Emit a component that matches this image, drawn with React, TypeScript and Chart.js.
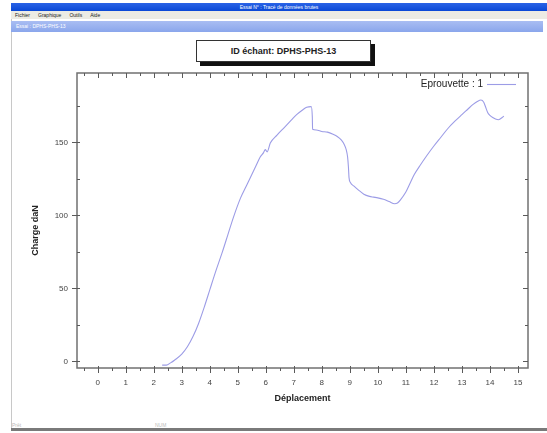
import React, { useEffect, useRef } from "react";
import { Chart, registerables } from "chart.js";

Chart.register(...registerables);

// ---- data ----
const displacement = [
  2.3, 2.45, 2.6, 2.75, 3.0, 3.2, 3.4, 3.6, 3.8, 4.0, 4.2, 4.45, 4.65, 4.85, 5.1, 5.3, 5.45, 5.65,
  5.8, 5.92, 5.98, 6.05, 6.16, 6.4, 6.65, 6.9, 7.1, 7.3, 7.46, 7.62, 7.66, 7.67, 7.8, 8.0, 8.2,
  8.4, 8.55, 8.7, 8.8, 8.87, 8.92, 8.95, 8.97, 9.02, 9.15, 9.3, 9.5, 9.7, 9.85, 10.0, 10.2, 10.4,
  10.6, 10.7, 10.8, 11.0, 11.15, 11.3, 11.5, 11.75, 12.0, 12.25, 12.5, 12.75, 13.0, 13.2, 13.4,
  13.55, 13.68, 13.78, 13.85, 13.92, 14.0, 14.1, 14.2, 14.3, 14.4, 14.5,
];
const load = [
  -2.5, -2.5, -1, 1, 5, 10, 17, 26, 37, 49, 61, 75, 87, 99, 112, 120, 126, 134,
  140, 143, 145, 143.5, 149.5, 155, 160, 165, 169, 172, 174, 174.5, 167.5, 159, 158.5, 157.5, 157,
  155.5, 154, 151.5, 148.5, 145, 140, 133, 126, 122.5, 120, 117.5, 114.5, 113, 112.5, 112, 111, 109.5,
  108, 108.5, 110.5, 116, 122, 128, 134, 141, 147.5, 153.5, 159.5, 164.5, 169, 172.5, 176,
  178, 179, 177.5, 174, 170.5, 168.5, 167, 166, 165.5, 166.5, 168,
];
const xTickValues = [0, 1, 2, 3, 4, 5, 6, 7, 8, 9, 10, 11, 12, 13, 14, 15];
const yTickValues = [0, 50, 100, 150];
const seriesLabel = "Eprouvette : 1";
const chartTitle = "ID échant: DPHS-PHS-13";
const xTitle = "Déplacement";
const yTitle = "Charge daN";
const windowTitle = "Essai N° : Tracé de données brutes";
const menuItems = ["Fichier", "Graphique", "Outils", "Aide"];
const barText = "Essai : DPHS-PHS-13";

const LINE_COLOR = "#9c9ce6";
const FONT = "'Liberation Sans', Arial, sans-serif";

const decorPlugin = {
  id: "decor",
  afterDraw(chart: any) {
    const { ctx, chartArea: a, scales } = chart;
    const xs = scales.x;
    const ys = scales.y;
    ctx.save();
    // frame
    ctx.strokeStyle = "#707070";
    ctx.lineWidth = 1.5;
    ctx.strokeRect(a.left, a.top, a.right - a.left, a.bottom - a.top);
    // ticks
    ctx.lineWidth = 1;
    ctx.strokeStyle = "#5a5a5a";
    ctx.beginPath();
    for (let v = -0.5; v <= 15.01; v += 0.5) {
      const px = Math.round(xs.getPixelForValue(v)) + 0.5;
      const major = Number.isInteger(v);
      ctx.moveTo(px, a.bottom - (major ? 2 : 0));
      ctx.lineTo(px, a.bottom + (major ? 5 : 3));
      ctx.moveTo(px, a.top);
      ctx.lineTo(px, a.top + (major ? 5 : 3));
    }
    for (let v = 0; v <= 175; v += 25) {
      const py = Math.round(ys.getPixelForValue(v)) + 0.5;
      const major = v % 50 === 0;
      ctx.moveTo(a.left - (major ? 5 : 0), py);
      ctx.lineTo(a.left + 3, py);
      ctx.moveTo(a.right, py);
      ctx.lineTo(a.right - (major ? 5 : 3), py);
    }
    ctx.stroke();
    // axis titles
    ctx.fillStyle = "#222";
    ctx.font = `bold 9px ${FONT}`;
    ctx.textAlign = "center";
    ctx.textBaseline = "middle";
    ctx.fillText(xTitle, (a.left + a.right) / 2, 399);
    ctx.save();
    ctx.translate(36, (a.top + a.bottom) / 2 + 10);
    ctx.rotate(-Math.PI / 2);
    ctx.fillText(yTitle, 0, 0);
    ctx.restore();
    // legend
    ctx.font = `10px ${FONT}`;
    ctx.fillStyle = "#222";
    ctx.textAlign = "right";
    ctx.fillText(seriesLabel, 483, 84);
    ctx.strokeStyle = LINE_COLOR;
    ctx.lineWidth = 1.1;
    ctx.beginPath();
    ctx.moveTo(487, 84.5);
    ctx.lineTo(516, 84.5);
    ctx.stroke();
    ctx.restore();
  },
};

export default function App() {
  const ref = useRef<HTMLCanvasElement>(null);
  useEffect(() => {
    document.body.style.margin = "0";
    const data = displacement.map((x, i) => ({ x, y: load[i] }));
    const tickFont = { family: FONT, size: 8 };
    const chart = new Chart(ref.current!, {
      type: "line",
      data: {
        datasets: [
          {
            label: seriesLabel,
            data,
            borderColor: LINE_COLOR,
            borderWidth: 1.1,
            pointRadius: 0,
            cubicInterpolationMode: "monotone",
            fill: false,
          },
        ],
      },
      options: {
        animation: false,
        responsive: false,
        devicePixelRatio: 1,
        layout: { padding: { left: 0, top: 73, right: 19, bottom: 0 } },
        plugins: { legend: { display: false }, tooltip: { enabled: false } },
        scales: {
          x: {
            type: "linear",
            min: -0.74,
            max: 15.36,
            afterFit: (s: any) => {
              s.height = 65;
            },
            afterBuildTicks: (s: any) => {
              s.ticks = xTickValues.map((v) => ({ value: v }));
            },
            grid: { display: false, drawTicks: false },
            border: { display: false },
            ticks: {
              autoSkip: false,
              maxRotation: 0,
              padding: 10,
              color: "#444",
              font: tickFont,
              callback: (v: any) => String(v),
            },
          },
          y: {
            type: "linear",
            min: -4.5,
            max: 197.5,
            afterFit: (s: any) => {
              s.width = 77;
            },
            afterBuildTicks: (s: any) => {
              s.ticks = yTickValues.map((v) => ({ value: v }));
            },
            grid: { display: false, drawTicks: false },
            border: { display: false },
            ticks: {
              padding: 9,
              color: "#444",
              font: tickFont,
              callback: (v: any) => String(v),
            },
          },
        },
      },
      plugins: [decorPlugin],
    });
    return () => chart.destroy();
  }, []);

  const tiny = { fontFamily: FONT, fontSize: 5, lineHeight: "8px" } as const;
  return (
    <div style={{ position: "absolute", left: 0, top: 0, width: 547, height: 433, background: "#fff", overflow: "hidden" }}>
      <div style={{ position: "absolute", left: 11, top: 3, width: 1, height: 428, background: "#c8c8c8" }} />
      <div style={{ position: "absolute", left: 11, top: 3, width: 536, height: 8, background: "linear-gradient(#2a63e6,#0a48d6)", color: "#fff", textAlign: "center", ...tiny }}>
        {windowTitle}
      </div>
      <div style={{ position: "absolute", left: 11, top: 11, width: 536, height: 8, background: "#ecebe4", color: "#222", ...tiny, paddingLeft: 4, boxSizing: "border-box" }}>
        {menuItems.map((m) => (
          <span key={m} style={{ marginRight: 8 }}>{m}</span>
        ))}
      </div>
      <div style={{ position: "absolute", left: 11, top: 21, width: 532, height: 11, background: "linear-gradient(#a9bdf2,#8aa6ec)", color: "#fff", ...tiny, lineHeight: "11px", paddingLeft: 5, boxSizing: "border-box" }}>
        {barText}
      </div>
      <div style={{ position: "absolute", left: 196, top: 40, width: 175, height: 22, boxSizing: "border-box", border: "1px solid #333", boxShadow: "4px 4px 0 #111", background: "#fff", fontFamily: FONT, fontSize: 9, fontWeight: "bold", color: "#222", textAlign: "center", lineHeight: "20px" }}>
        {chartTitle}
      </div>
      <div style={{ position: "absolute", left: 12, top: 421, color: "#bbb", ...tiny }}>Prêt</div>
      <div style={{ position: "absolute", left: 155, top: 421, color: "#bbb", ...tiny }}>NUM</div>
      <div style={{ position: "absolute", left: 11, top: 428, width: 536, height: 3, background: "#7a7a7a" }} />
      <canvas ref={ref} width={547} height={433} style={{ position: "absolute", left: 0, top: 0, width: 547, height: 433 }} />
    </div>
  );
}
